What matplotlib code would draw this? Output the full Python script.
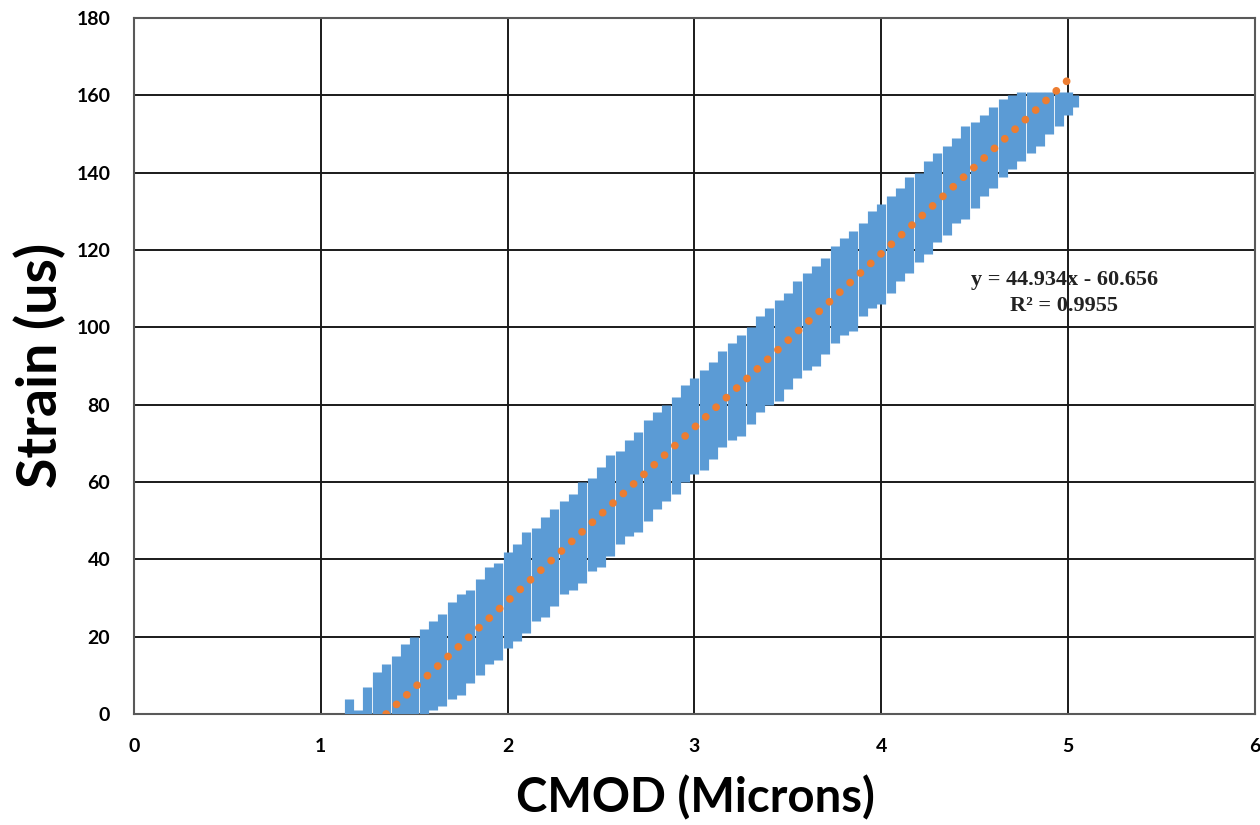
import matplotlib.pyplot as plt

# CMOD vs strain: each column of points as (x, lowest y, highest y)
cmod = [1.15, 1.20, 1.25, 1.30, 1.35, 1.40, 1.45, 1.50, 1.55, 1.60,
        1.65, 1.70, 1.75, 1.80, 1.85, 1.90, 1.95, 2.00, 2.05, 2.10,
        2.15, 2.20, 2.25, 2.30, 2.35, 2.40, 2.45, 2.50, 2.55, 2.60,
        2.65, 2.70, 2.75, 2.80, 2.85, 2.90, 2.95, 3.00, 3.05, 3.10,
        3.15, 3.20, 3.25, 3.30, 3.35, 3.40, 3.45, 3.50, 3.55, 3.60,
        3.65, 3.70, 3.75, 3.80, 3.85, 3.90, 3.95, 4.00, 4.05, 4.10,
        4.15, 4.20, 4.25, 4.30, 4.35, 4.40, 4.45, 4.50, 4.55, 4.60,
        4.65, 4.70, 4.75, 4.80, 4.85, 4.90, 4.95, 5.00, 5.03]
strain_low = [0, 0, 0, 0, 0, 0, 0, 0, 0, 1,
              2, 4, 5, 8, 10, 13, 14, 17, 19, 21,
              24, 25, 28, 31, 32, 34, 37, 38, 41, 44,
              46, 47, 50, 53, 55, 57, 60, 62, 63, 66,
              69, 71, 72, 75, 78, 80, 81, 84, 87, 89,
              90, 93, 96, 98, 99, 103, 105, 106, 109, 112,
              114, 117, 119, 122, 124, 127, 128, 131, 134, 136,
              139, 141, 143, 145, 147, 150, 152, 155, 157]
strain_high = [4, 1, 7, 11, 13, 15, 18, 20, 22, 24,
               26, 29, 31, 32, 35, 38, 39, 42, 44, 47,
               48, 51, 53, 55, 57, 60, 61, 64, 67, 68,
               71, 73, 76, 78, 80, 82, 85, 87, 89, 91,
               94, 96, 98, 100, 103, 105, 107, 109, 112, 114,
               116, 118, 121, 123, 125, 127, 130, 132, 134, 136,
               139, 140, 143, 145, 147, 149, 152, 153, 155, 157,
               159, 160, 161, 161, 161, 161, 161, 161, 160]

# linear trendline shown on the chart
slope = 44.934
intercept = -60.656
trend_x = [1.35, 5.0]

blue = '#5B9BD5'
orange = '#ED7D31'

plt.rcParams['font.family'] = ['Lato', 'DejaVu Sans']

fig = plt.figure(figsize=(12.6, 8.25), dpi=100)
ax = fig.add_axes([0.1063, 0.1345, 0.8897, 0.8436])

ax.vlines(cmod, strain_low, strain_high, color=blue, lw=6.6, zorder=3)

trend_y = [slope * x + intercept for x in trend_x]
ax.plot(trend_x, trend_y, color=orange, lw=5.6, linestyle=(0, (0.01, 1.8)),
        dash_capstyle='round', zorder=4)

ax.text(4.98, 112.2, 'y = 44.934x - 60.656', ha='center', va='center',
        fontsize=16, fontweight='bold', family='Liberation Serif', color='#222222')
ax.text(4.98, 105.5, 'R² = 0.9955', ha='center', va='center',
        fontsize=16, fontweight='bold', family='Liberation Serif', color='#222222')

ax.set_xlim(0, 6)
ax.set_ylim(0, 180)
ax.set_xticks(range(0, 7))
ax.set_yticks(range(0, 181, 20))
ax.grid(True, color='#1a1a1a', lw=1.4)
ax.set_axisbelow(True)
ax.tick_params(length=0, labelsize=14, pad=17)
for lab in ax.get_xticklabels() + ax.get_yticklabels():
    lab.set_fontweight('bold')
for sp in ax.spines.values():
    sp.set_color('#595959')
    sp.set_linewidth(1.5)

fig.text(0.5516, 0.0327, 'CMOD (Microns)', ha='center', va='center',
         fontsize=34, fontweight='bold')
fig.text(0.0317, 0.5576, 'Strain (us)', ha='center', va='center',
         rotation=90, fontsize=40, fontweight='bold')

fig.savefig('out.png', dpi=100)
